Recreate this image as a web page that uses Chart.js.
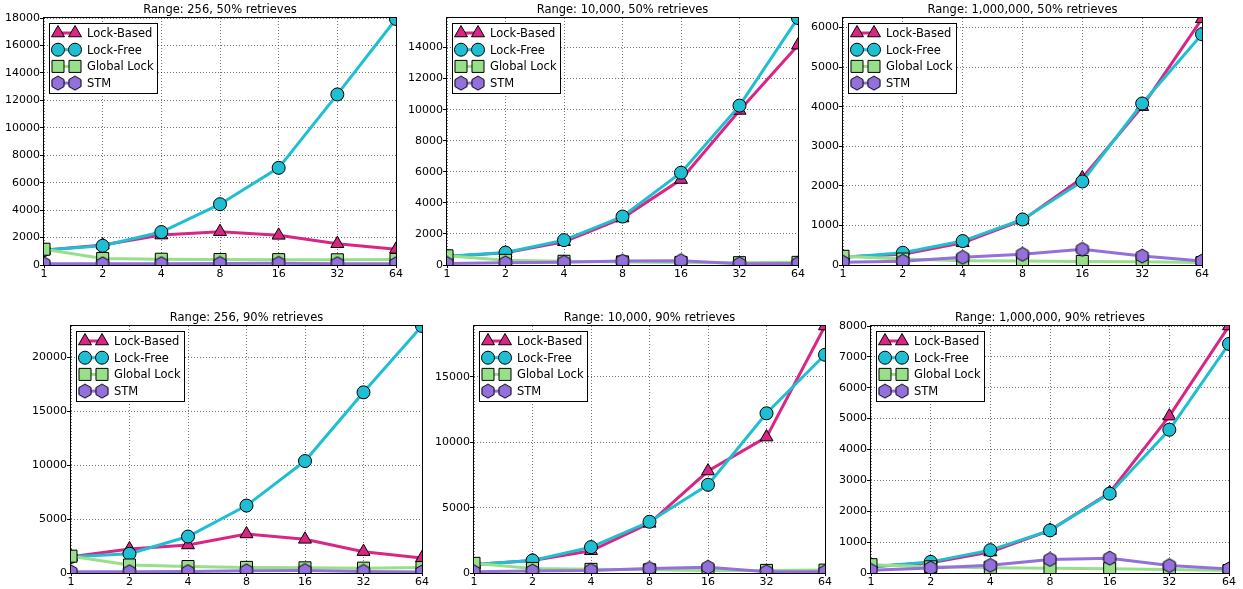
<!DOCTYPE html>
<html lang="en">
<head>
<meta charset="UTF-8">
<title>Throughput by thread count</title>
<script src="https://cdn.jsdelivr.net/npm/chart.js"></script>
<style>
  body { margin: 0; background: #fff; width: 1243px; height: 589px; overflow: hidden; position: relative; }
  canvas { position: absolute; }
</style>
<script>
  // x axis: thread counts
  const threads = ['1', '2', '4', '8', '16', '32', '64'];
  const seriesNames = ['Lock-Based', 'Lock-Free', 'Global Lock', 'STM'];
  const titles = [
    'Range: 256, 50% retrieves', 'Range: 10,000, 50% retrieves', 'Range: 1,000,000, 50% retrieves',
    'Range: 256, 90% retrieves', 'Range: 10,000, 90% retrieves', 'Range: 1,000,000, 90% retrieves'
  ];

  // Range 256, 50% retrieves
  const lockBased_256_50 = [1070, 1450, 2180, 2430, 2160, 1550, 1140];
  const lockFree_256_50 = [1090, 1400, 2400, 4430, 7080, 12430, 17930];
  const globalLock_256_50 = [1150, 470, 420, 400, 390, 380, 400];
  const stm_256_50 = [100, 90, 100, 110, 120, 100, 90];

  // Range 10,000, 50% retrieves
  const lockBased_10k_50 = [550, 780, 1500, 3020, 5500, 9950, 14150];
  const lockFree_10k_50 = [560, 800, 1600, 3120, 5940, 10260, 15900];
  const globalLock_10k_50 = [590, 300, 240, 200, 160, 150, 170];
  const stm_10k_50 = [100, 140, 170, 250, 280, 80, 100];

  // Range 1,000,000, 50% retrieves
  const lockBased_1m_50 = [200, 270, 560, 1130, 2200, 4000, 6220];
  const lockFree_1m_50 = [190, 310, 605, 1150, 2110, 4080, 5830];
  const globalLock_1m_50 = [220, 150, 110, 100, 90, 80, 60];
  const stm_1m_50 = [70, 95, 195, 270, 395, 225, 100];

  // Range 256, 90% retrieves
  const lockBased_256_90 = [1500, 2230, 2600, 3620, 3120, 1980, 1400];
  const lockFree_256_90 = [1500, 1780, 3380, 6250, 10380, 16750, 22900];
  const globalLock_256_90 = [1560, 740, 600, 520, 480, 450, 500];
  const stm_256_90 = [110, 120, 130, 200, 230, 150, 100];

  // Range 10,000, 90% retrieves
  const lockBased_10k_90 = [650, 950, 1700, 3800, 7800, 10400, 18900];
  const lockFree_10k_90 = [650, 960, 1980, 3920, 6750, 12220, 16700];
  const globalLock_10k_90 = [740, 350, 280, 240, 200, 200, 220];
  const stm_10k_90 = [100, 150, 200, 350, 440, 100, 100];

  // Range 1,000,000, 90% retrieves
  const lockBased_1m_90 = [200, 330, 680, 1380, 2600, 5080, 8000];
  const lockFree_1m_90 = [200, 360, 740, 1380, 2570, 4640, 7420];
  const globalLock_1m_90 = [270, 200, 170, 150, 140, 110, 80];
  const stm_1m_90 = [85, 160, 250, 440, 480, 240, 130];

  const yMax = [18000, 15900, 6240, 22900, 18900, 8000];
  const yStep = [2000, 2000, 1000, 5000, 5000, 1000];

  const panelData = [
    [lockBased_256_50, lockFree_256_50, globalLock_256_50, stm_256_50],
    [lockBased_10k_50, lockFree_10k_50, globalLock_10k_50, stm_10k_50],
    [lockBased_1m_50, lockFree_1m_50, globalLock_1m_50, stm_1m_50],
    [lockBased_256_90, lockFree_256_90, globalLock_256_90, stm_256_90],
    [lockBased_10k_90, lockFree_10k_90, globalLock_10k_90, stm_10k_90],
    [lockBased_1m_90, lockFree_1m_90, globalLock_1m_90, stm_1m_90]
  ];

  // plot rectangles [left, top, right, bottom] in page pixels
  const plotRects = [
    [44, 18, 396, 265], [447, 18, 798, 265], [843, 18, 1202, 265],
    [71, 326, 422, 573], [474, 326, 825, 573], [871, 326, 1229, 573]
  ];
  const Y_AXIS_W = 44, TITLE_H = 18, X_AXIS_H = 16, PAD_R = 14;

  const colors = ['#d92685', '#1fbfd3', '#98df8a', '#9370db'];

  function hexagon(color) {
    const c = document.createElement('canvas');
    c.width = c.height = 16;
    const g = c.getContext('2d');
    g.beginPath();
    for (let k = 0; k < 6; k++) {
      const a = Math.PI / 3 * k - Math.PI / 2;
      const px = 8 + 7 * Math.cos(a), py = 8 + 7 * Math.sin(a);
      if (k === 0) g.moveTo(px, py); else g.lineTo(px, py);
    }
    g.closePath();
    g.fillStyle = color;
    g.fill();
    g.strokeStyle = '#000';
    g.lineWidth = 1;
    g.stroke();
    return c;
  }

  // black frame round the plot plus a matplotlib-like legend in the upper left
  const frameAndLegend = {
    id: 'frameAndLegend',
    afterDatasetsDraw(chart) {
      const ctx = chart.ctx, a = chart.chartArea;
      ctx.save();
      ctx.strokeStyle = '#000';
      ctx.lineWidth = 1;
      ctx.strokeRect(Math.round(a.left) - 0.5, Math.round(a.top) - 0.5,
                     Math.round(a.right - a.left) + 1, Math.round(a.bottom - a.top) + 1);

      const x0 = Math.round(a.left) + 5, y0 = Math.round(a.top) + 5, w = 108, h = 70;
      ctx.fillStyle = '#fff';
      ctx.fillRect(x0, y0, w, h);
      ctx.strokeRect(x0 + 0.5, y0 + 0.5, w, h);
      chart.data.datasets.forEach((ds, i) => {
        const y = y0 + 10 + i * 16.7;
        ctx.strokeStyle = ds.borderColor;
        ctx.lineWidth = 3;
        ctx.beginPath();
        ctx.moveTo(x0 + 9, y);
        ctx.lineTo(x0 + 26, y);
        ctx.stroke();
        [x0 + 9, x0 + 26].forEach(mx => {
          ctx.fillStyle = ds.pointBackgroundColor;
          ctx.strokeStyle = '#000';
          ctx.lineWidth = 1;
          Chart.helpers.drawPoint(ctx, {
            pointStyle: ds.pointStyle, radius: ds.pointRadius, rotation: 0, borderWidth: 1
          }, mx, y);
        });
        ctx.fillStyle = '#000';
        ctx.font = '11.5px "DejaVu Sans"';
        ctx.textBaseline = 'middle';
        ctx.fillText(ds.label, x0 + 38, y + 1);
      });
      ctx.restore();
    }
  };

  window.addEventListener('load', () => {
    Chart.defaults.font.family = '"DejaVu Sans", sans-serif';
    Chart.defaults.color = '#000';

    const pointStyles = ['triangle', 'circle', 'rect', hexagon(colors[3])];
    const pointRadii = [7.5, 6.5, 8.5, 7];

    panelData.forEach((series, p) => {
      const [L, T, R, B] = plotRects[p];
      const cv = document.createElement('canvas');
      const cw = (R - L) + Y_AXIS_W + PAD_R, ch = (B - T) + TITLE_H + X_AXIS_H;
      cv.width = cw; cv.height = ch;
      cv.style.left = (L - Y_AXIS_W) + 'px';
      cv.style.top = (T - TITLE_H) + 'px';
      cv.style.width = cw + 'px'; cv.style.height = ch + 'px';
      document.body.appendChild(cv);

      const datasets = series.map((vals, i) => ({
        label: seriesNames[i],
        data: vals,
        borderColor: colors[i],
        backgroundColor: colors[i],
        borderWidth: 3,
        tension: 0,
        pointStyle: pointStyles[i],
        pointRadius: pointRadii[i],
        pointBackgroundColor: colors[i],
        pointBorderColor: '#000',
        pointBorderWidth: 1,
        clip: 0,
        order: 3 - i
      }));

      new Chart(cv, {
        type: 'line',
        data: { labels: threads, datasets: datasets },
        options: {
          responsive: false,
          animation: false,
          devicePixelRatio: 1,
          layout: { padding: { left: 0, right: PAD_R, top: 0, bottom: 0 } },
          plugins: {
            legend: { display: false },
            tooltip: { enabled: false },
            title: {
              display: true, text: titles[p], fullSize: false, color: '#000',
              font: { size: 11.5, weight: 'normal' },
              padding: { top: 3, bottom: 1.2 }
            }
          },
          scales: {
            x: {
              type: 'category', offset: false,
              grid: { color: 'rgba(0,0,0,0.55)', lineWidth: 1,
                      tickLength: 3, tickColor: '#000', tickBorderDash: [] },
              border: { display: false, dash: [1, 2] },
              ticks: { font: { size: 11 }, color: '#000', padding: 0, autoSkip: false, maxRotation: 0 },
              afterFit(scale) { scale.height = X_AXIS_H; }
            },
            y: {
              min: 0, max: yMax[p],
              grid: { color: 'rgba(0,0,0,0.55)', lineWidth: 1,
                      tickLength: 4, tickColor: '#000', tickBorderDash: [] },
              border: { display: false, dash: [1, 2] },
              ticks: { font: { size: 11 }, color: '#000', padding: 0, callback: v => String(v) },
              afterBuildTicks(scale) {
                const t = [];
                for (let v = 0; v <= yMax[p]; v += yStep[p]) t.push({ value: v });
                scale.ticks = t;
              },
              afterFit(scale) { scale.width = Y_AXIS_W; }
            }
          }
        },
        plugins: [frameAndLegend]
      });
    });
  });
</script>
</head>
<body>
</body>
</html>
